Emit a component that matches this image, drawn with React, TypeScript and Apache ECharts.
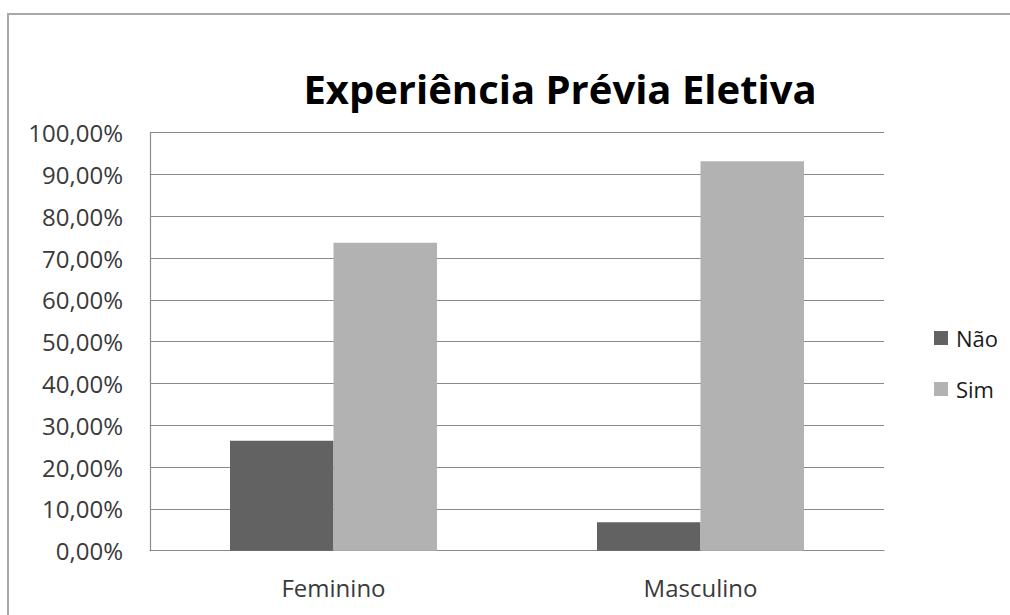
import React, { useEffect, useRef } from "react";
import * as echarts from "echarts";

const categories = ["Feminino", "Masculino"];
const seriesNames = ["Não", "Sim"];
const naoValues = [26.32, 6.82];
const simValues = [73.68, 93.18];
const titleText = "Experiência Prévia Eletiva";

const fmtPct = (v: number) => v.toFixed(2).replace(".", ",") + "%";

export default function App() {
  const ref = useRef<HTMLDivElement>(null);

  useEffect(() => {
    if (!ref.current) return;
    const chart = echarts.init(ref.current, undefined, { renderer: "svg" });
    const font = "Open Sans, Noto Sans, sans-serif";
    chart.setOption({
      animation: false,
      backgroundColor: "#ffffff",
      textStyle: { fontFamily: font },
      title: {
        text: titleText,
        left: 555,
        top: 63,
        textAlign: "center",
        textStyle: {
          fontFamily: font,
          fontSize: 40,
          fontWeight: "bold",
          color: "#000000",
        },
      },
      graphic: [
        {
          type: "rect",
          shape: { x: 8, y: 14, width: 1020, height: 620 },
          style: { fill: "none", stroke: "#a8a8a8", lineWidth: 2 },
          silent: true,
        },
      ],
      legend: {
        orient: "vertical",
        left: 929,
        top: 322,
        itemWidth: 14,
        itemHeight: 14,
        itemGap: 29,
        icon: "rect",
        textStyle: { fontFamily: font, fontSize: 22, color: "#1a1a1a", padding: [0, 0, 0, 3] },
        data: seriesNames,
      },
      grid: { left: 150, top: 132.7, right: 126, bottom: 64.3, containLabel: false },
      xAxis: {
        type: "category",
        data: categories,
        axisLine: { lineStyle: { color: "#8a8a8a", width: 1.2 } },
        axisTick: { show: false },
        axisLabel: { fontFamily: font, fontSize: 24, color: "#3a3a3a", margin: 25 },
      },
      yAxis: {
        type: "value",
        min: 0,
        max: 100,
        interval: 10,
        axisLine: { show: true, lineStyle: { color: "#8a8a8a", width: 1.2 } },
        axisTick: { show: false },
        splitLine: { lineStyle: { color: "#8a8a8a", width: 1.2 } },
        axisLabel: {
          fontFamily: font,
          fontSize: 24,
          color: "#3a3a3a",
          margin: 27,
          formatter: (v: number) => fmtPct(v),
        },
      },
      series: [
        {
          name: seriesNames[0],
          type: "bar",
          data: naoValues,
          barGap: "0%",
          barCategoryGap: "43.6%",
          itemStyle: { color: "#626262" },
        },
        {
          name: seriesNames[1],
          type: "bar",
          data: simValues,
          barGap: "0%",
          barCategoryGap: "43.6%",
          itemStyle: { color: "#b2b2b2" },
        },
      ],
    });
    return () => chart.dispose();
  }, []);

  return (
    <div
      ref={ref}
      style={{ position: "absolute", left: 0, top: 0, width: 1010, height: 615 }}
    />
  );
}
